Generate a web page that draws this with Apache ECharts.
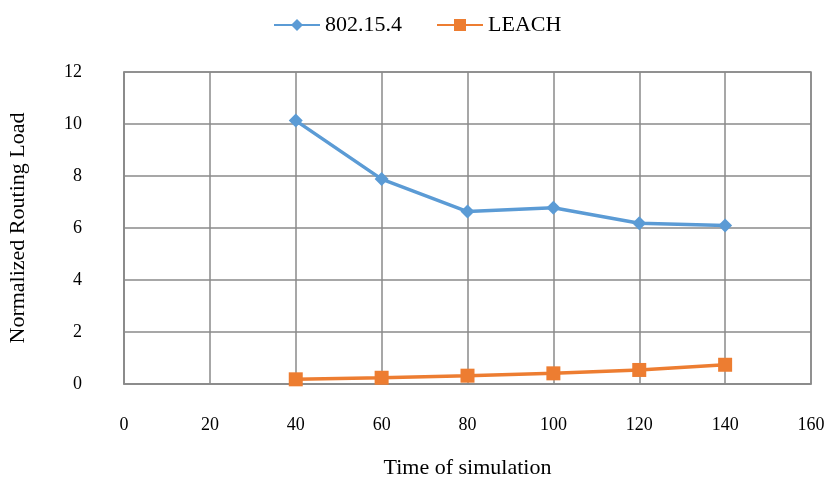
<!DOCTYPE html>
<html><head><meta charset="utf-8">
<script src="https://cdn.jsdelivr.net/npm/echarts@6/dist/echarts.min.js"></script>
<style>html,body{margin:0;padding:0;background:#fff}#c{width:827px;height:480px}</style>
</head><body><div id="c"></div>
<script>
var xValues = [40, 60, 80, 100, 120, 140];
var series802 = [10.13, 7.88, 6.63, 6.78, 6.18, 6.10];
var seriesLeach = [0.18, 0.24, 0.32, 0.41, 0.54, 0.74];
var seriesNames = ['802.15.4', 'LEACH'];
var font = '"Liberation Serif", "Times New Roman", serif';
function pairs(xs, ys){ return xs.map(function(x,i){return [x, ys[i]];}); }
var chart = echarts.init(document.getElementById('c'), null, {renderer:'canvas'});
chart.setOption({
  animation:false,
  backgroundColor:'#fff',
  legend:{
    top:9, left:268, itemWidth:46, itemHeight:15, itemGap:34,
    textStyle:{fontFamily:font, fontSize:22, color:'#000'},
    data:[seriesNames[0], seriesNames[1]]
  },
  grid:{left:124, right:16, top:72, bottom:96, outerBoundsMode:'none', containLabel:false,
        show:true, borderColor:'#8a8a8a', borderWidth:1.5},
  xAxis:{
    type:'value', min:0, max:160, interval:20,
    name:'Time of simulation', nameLocation:'middle', nameGap:73,
    nameTextStyle:{fontFamily:font, fontSize:22, color:'#000'},
    axisLine:{show:true, lineStyle:{color:'#8a8a8a', width:1.5}},
    axisTick:{show:false},
    axisLabel:{fontFamily:font, fontSize:18, color:'#000', margin:32},
    splitLine:{show:true, lineStyle:{color:'#8a8a8a', width:1.5}}
  },
  yAxis:{
    type:'value', min:0, max:12, interval:2,
    name:'Normalized Routing Load', nameLocation:'middle', nameGap:95, nameRotate:90,
    nameTextStyle:{fontFamily:font, fontSize:22, color:'#000'},
    axisLine:{show:true, lineStyle:{color:'#8a8a8a', width:1.5}},
    axisTick:{show:false},
    axisLabel:{fontFamily:font, fontSize:18, color:'#000', margin:42},
    splitLine:{show:true, lineStyle:{color:'#8a8a8a', width:1.5}}
  },
  series:[
    {name:seriesNames[0], type:'line', data:pairs(xValues, series802),
     symbol:'diamond', symbolSize:14, color:'#5B9BD5',
     lineStyle:{width:3.5, color:'#5B9BD5'}, itemStyle:{color:'#5B9BD5'}},
    {name:seriesNames[1], type:'line', data:pairs(xValues, seriesLeach),
     symbol:'rect', symbolSize:14, color:'#ED7D31',
     lineStyle:{width:3.5, color:'#ED7D31'}, itemStyle:{color:'#ED7D31'}}
  ]
});
</script></body></html>
